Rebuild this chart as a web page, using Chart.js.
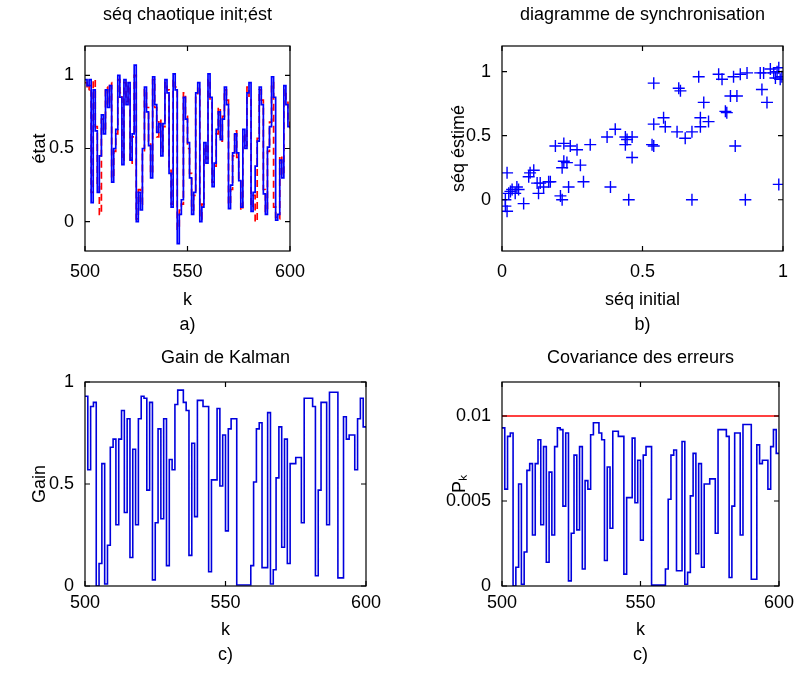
<!DOCTYPE html>
<html><head><meta charset="utf-8">
<script src="https://cdn.jsdelivr.net/npm/chart.js@4.4.1/dist/chart.umd.min.js"></script>
<style>
html,body{margin:0;padding:0;background:#fff;overflow:hidden;width:800px;height:677px}
canvas{position:absolute}
</style></head><body>
<canvas id="ca" width="400" height="338" style="left:0;top:0"></canvas>
<canvas id="cb" width="400" height="338" style="left:400px;top:0"></canvas>
<canvas id="cc" width="400" height="339" style="left:0;top:338px"></canvas>
<canvas id="cd" width="400" height="339" style="left:400px;top:338px"></canvas>
<script>
// ---- data ----
const kStart = 500, kEnd = 600;
const k = [];
for (let v = kStart; v <= kEnd; v++) k.push(v);

const seqInitial = [
0.97,0.93,0.97,0.13,0.90,0.62,0.20,0.45,0.73,0.60,
0.90,0.78,0.93,0.27,0.50,0.63,1.00,0.85,0.39,0.97,
0.80,0.95,0.42,0.60,1.07,0.00,0.20,0.08,0.50,0.92,
0.75,0.52,0.30,0.99,0.80,0.61,0.67,0.45,0.67,0.97,
0.88,0.33,0.10,1.01,0.90,-0.15,0.05,0.15,0.85,0.70,
0.54,0.30,0.05,0.20,0.88,0.95,0.00,0.10,0.54,0.40,
1.01,0.85,0.24,0.40,0.63,0.75,0.56,0.70,0.92,0.80,
0.09,0.25,0.47,0.60,0.47,0.28,0.10,0.63,0.50,0.88,
0.95,0.07,0.20,0.38,0.55,0.92,0.80,0.19,0.05,0.51,
0.65,0.99,0.85,0.01,0.05,0.42,0.30,0.93,0.80,0.65,
0.65];
const seqEstimated = [
0.95,0.90,0.93,0.20,0.97,0.65,0.25,0.05,0.70,0.62,
0.92,0.80,0.95,0.30,0.48,0.60,0.97,0.88,0.42,0.95,
0.82,0.93,0.40,0.58,1.00,0.02,0.22,0.12,0.47,0.90,
0.78,0.55,0.33,0.97,0.78,0.58,0.70,0.48,0.65,0.95,
0.90,0.35,0.12,0.97,0.92,-0.05,0.08,0.12,0.88,0.72,
0.50,0.33,0.08,0.18,0.85,0.92,0.02,0.12,0.52,0.43,
0.97,0.83,0.27,0.38,0.60,0.78,0.55,0.72,0.90,0.83,
0.12,0.22,0.45,0.62,0.44,0.30,0.08,0.60,0.52,0.92,
0.85,0.10,0.18,0.00,0.57,0.90,0.83,0.22,0.07,0.48,
0.68,0.95,0.10,0.03,0.02,0.45,0.32,0.90,0.83,0.70,
0.62];

const syncInitial = [0.018,0.024,0.012,0.030,0.036,0.047,0.059,0.053,0.018,0.012,0.077,0.10,0.113,0.095,0.125,0.13,0.136,0.148,0.166,0.172,
0.19,0.22,0.243,0.267,0.314,0.214,0.231,0.279,0.22,0.208,0.214,0.237,0.29,0.386,0.374,0.403,0.439,0.445,0.463,0.439,0.463,0.451,
0.534,0.54,0.54,0.54,0.575,0.581,0.623,0.652,0.676,0.629,0.635,0.676,0.70,0.718,0.706,0.706,0.735,0.771,0.783,0.795,0.80,0.813,
0.836,0.83,0.824,0.848,0.872,0.866,0.925,0.931,0.943,0.967,0.973,0.985,0.99,0.996,0.985,0.979,0.955,0.919];
const syncEstimated = [0.21,0.05,0.0,0.065,0.08,0.05,0.08,0.10,-0.09,-0.05,-0.03,0.21,0.23,0.18,0.13,0.05,0.13,0.10,0.14,0.14,
0.42,0.44,0.42,0.39,0.43,0.25,0.29,0.27,0.30,0.03,0.0,0.10,0.14,0.10,0.49,0.55,0.49,0.47,0.49,0.43,0.33,0.0,
0.43,0.42,0.91,0.59,0.64,0.57,0.53,0.48,0.53,0.87,0.85,0.0,0.96,0.76,0.64,0.57,0.61,0.98,0.94,0.69,0.68,0.81,
0.81,0.42,0.96,0.98,0.99,0.0,0.86,0.99,0.76,0.99,0.95,1.03,0.94,0.96,0.12,1.00,1.02,0.99];

const kalmanGain = [
0.93,0.57,0.88,0.90,0.00,0.11,0.60,0.01,0.20,0.68,
0.72,0.30,0.72,0.86,0.36,0.82,0.14,0.67,0.30,0.82,
0.93,0.92,0.47,0.90,0.03,0.31,0.77,0.33,0.82,0.10,
0.62,0.57,0.89,0.96,0.96,0.90,0.86,0.15,0.70,0.34,
0.91,0.91,0.88,0.88,0.07,0.52,0.52,0.87,0.49,0.74,
0.27,0.77,0.82,0.82,0.005,0.005,0.005,0.005,0.005,0.10,
0.51,0.77,0.80,0.09,0.09,0.85,0.01,0.08,0.53,0.78,
0.19,0.72,0.11,0.60,0.60,0.63,0.63,0.31,0.92,0.92,
0.92,0.88,0.05,0.47,0.90,0.90,0.30,0.95,0.95,0.95,
0.04,0.04,0.83,0.72,0.74,0.74,0.57,0.82,0.92,0.78,
0.78];
const errorCov = [
0.0093,0.0057,0.0088,0.0090,0.0000,0.0011,0.0060,0.0001,0.0020,0.0068,
0.0072,0.0030,0.0072,0.0086,0.0036,0.0082,0.0014,0.0067,0.0030,0.0082,
0.0093,0.0092,0.0047,0.0090,0.0003,0.0031,0.0077,0.0033,0.0082,0.0010,
0.0062,0.0057,0.0089,0.0096,0.0096,0.0090,0.0086,0.0015,0.0070,0.0034,
0.0091,0.0091,0.0088,0.0088,0.0007,0.0052,0.0052,0.0087,0.0049,0.0074,
0.0027,0.0077,0.0082,0.0082,0.00005,0.00005,0.00005,0.00005,0.00005,0.0010,
0.0051,0.0077,0.0080,0.0009,0.0009,0.0085,0.0001,0.0008,0.0053,0.0078,
0.0019,0.0072,0.0011,0.0060,0.0060,0.0063,0.0063,0.0031,0.0092,0.0092,
0.0092,0.0088,0.0005,0.0047,0.0090,0.0090,0.0030,0.0095,0.0095,0.0095,
0.0004,0.0004,0.0083,0.0072,0.0074,0.0074,0.0057,0.0082,0.0092,0.0078,
0.0078];
const covLimit = 0.01;

const kTicks = [500, 550, 600];
const unitTicks = [0, 0.5, 1];
const syncXTicks = [0, 0.5, 1];
const covTicks = [0, 0.005, 0.01];

// ---- helpers ----
const FF = "'Liberation Sans', Arial, Helvetica, sans-serif";
const FONT = {family: FF, size: 18};
Chart.defaults.color = '#000';
Chart.defaults.font.family = FF;

const xy = (xs, ys) => xs.map((x, i) => ({x, y: ys[i]}));

const framePlugin = {
  id: 'frame',
  afterDatasetsDraw(chart) {
    const {ctx, chartArea: a, scales} = chart;
    ctx.save();
    ctx.strokeStyle = '#000';
    ctx.lineWidth = 1.2;
    ctx.strokeRect(a.left, a.top, a.right - a.left, a.bottom - a.top);
    const L = 5;
    ctx.beginPath();
    scales.x.ticks.forEach(t => {
      const p = scales.x.getPixelForValue(t.value);
      ctx.moveTo(p, a.bottom); ctx.lineTo(p, a.bottom - L);
      ctx.moveTo(p, a.top); ctx.lineTo(p, a.top + L);
    });
    scales.y.ticks.forEach(t => {
      const p = scales.y.getPixelForValue(t.value);
      ctx.moveTo(a.left, p); ctx.lineTo(a.left + L, p);
      ctx.moveTo(a.right, p); ctx.lineTo(a.right - L, p);
    });
    ctx.stroke();
    ctx.restore();
  }
};

const NOGRID = {display: false, drawTicks: false, tickLength: 0};

function panel(id, type, datasets, o) {
  return new Chart(document.getElementById(id), {
    type,
    data: {datasets},
    options: {
      responsive: false, animation: false, devicePixelRatio: 1,
      layout: {padding: {left: 0, top: 0, bottom: 0, right: o.padRight}},
      plugins: {legend: {display: false}, title: {display: false}, tooltip: {enabled: false}},
      scales: {
        x: {
          type: 'linear', position: 'bottom', min: o.xMin, max: o.xMax,
          afterBuildTicks: s => { s.ticks = o.xTicks.map(v => ({value: v})); },
          ticks: {padding: o.xTickPad, font: FONT, color: '#000', maxRotation: 0, autoSkip: false, callback: v => String(v)},
          grid: NOGRID, border: {display: false},
          title: {display: true, text: o.xTitle, font: {family: FF, size: 18, lineHeight: 1.4}, color: '#000',
                  padding: {top: 0, bottom: o.xTitlePad}},
          afterFit: s => { s.height = o.xAxisH; }
        },
        x2: {
          type: 'linear', position: 'top', display: true,
          ticks: {display: false}, grid: NOGRID, border: {display: false},
          title: {display: true, text: o.title, font: FONT, color: '#000', padding: {top: o.titlePad, bottom: 0}},
          afterFit: s => { s.height = o.topH; }
        },
        y: {
          type: 'linear', position: 'left', min: o.yMin, max: o.yMax,
          afterBuildTicks: s => { s.ticks = o.yTicks.map(v => ({value: v})); },
          ticks: {padding: 11, font: FONT, color: '#000', autoSkip: false, callback: v => String(v)},
          grid: NOGRID, border: {display: false},
          title: {display: true, text: o.yTitle, font: FONT, color: '#000', padding: {top: o.yTitlePad, bottom: 0}},
          afterFit: s => { s.width = o.yAxisW; }
        }
      }
    },
    plugins: [framePlugin]
  });
}

const stepStyle = (color, w, dash) => ({
  borderColor: color, backgroundColor: color, borderWidth: w, borderDash: dash || [],
  pointRadius: 0, stepped: true, tension: 0, fill: false
});

// a) chaotic sequences
panel('ca', 'line', [
  Object.assign({data: xy(k, seqInitial)}, stepStyle('#0000ff', 1.7)),
  Object.assign({data: xy(k, seqEstimated)}, stepStyle('#ff0000', 1.7, [7, 4]))
], {
  padRight: 110, yAxisW: 85, xAxisH: 87, topH: 46, titlePad: 4.2, xTickPad: 10,
  xTitle: ['k', 'a)'], xTitlePad: 0, title: 'séq chaotique init;ést',
  yTitle: 'état', yTitlePad: 29,
  xMin: 500, xMax: 600, xTicks: kTicks, yMin: -0.2, yMax: 1.2, yTicks: unitTicks
});

// b) synchronisation diagram
panel('cb', 'scatter', [
  {data: xy(syncInitial, syncEstimated), pointStyle: 'cross', pointRadius: 6, pointHoverRadius: 6,
   borderColor: '#0000ff', backgroundColor: '#0000ff', borderWidth: 1.4, showLine: false}
], {
  padRight: 17, yAxisW: 102, xAxisH: 87, topH: 46, titlePad: 4.2, xTickPad: 10,
  xTitle: ['séq initial', 'b)'], xTitlePad: 0, title: 'diagramme de synchronisation',
  yTitle: 'séq éstimé', yTitlePad: 48,
  xMin: 0, xMax: 1, xTicks: syncXTicks, yMin: -0.4, yMax: 1.2, yTicks: unitTicks
});

// c) Kalman gain
panel('cc', 'line', [
  Object.assign({data: xy(k, kalmanGain)}, stepStyle('#0000dd', 1.6))
], {
  padRight: 34, yAxisW: 85, xAxisH: 91, topH: 44, titlePad: 9.7, xTickPad: 6,
  xTitle: ['k', 'c)'], xTitlePad: 9, title: 'Gain de Kalman',
  yTitle: 'Gain', yTitlePad: 29,
  xMin: 500, xMax: 600, xTicks: kTicks, yMin: 0, yMax: 1, yTicks: unitTicks
});

// d) error covariance
panel('cd', 'line', [
  Object.assign({data: xy(k, errorCov)}, stepStyle('#0000dd', 1.6)),
  Object.assign({data: [{x: kStart, y: covLimit}, {x: kEnd, y: covLimit}]}, stepStyle('#ff0000', 1.4))
], {
  padRight: 17, yAxisW: 102, xAxisH: 91, topH: 44, titlePad: 9.7, xTickPad: 6,
  xTitle: ['k', 'c)'], xTitlePad: 9, title: 'Covariance des erreurs',
  yTitle: 'Pₖ', yTitlePad: 49,
  xMin: 500, xMax: 600, xTicks: kTicks, yMin: 0, yMax: 0.012, yTicks: covTicks
});
</script>
</body></html>
